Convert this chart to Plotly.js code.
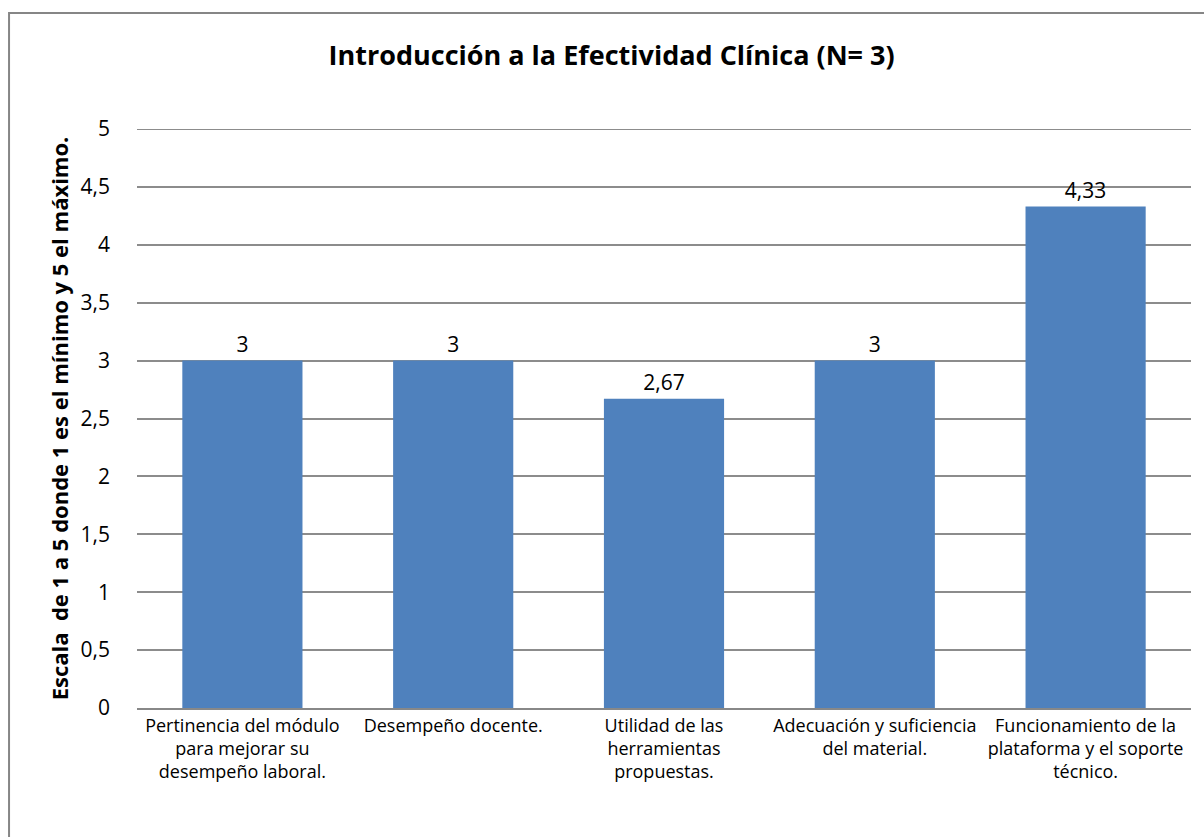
<!DOCTYPE html>
<html><head><meta charset="utf-8">
<script src="https://cdn.plot.ly/plotly-3.0.1.min.js"></script>
<style>html,body{margin:0;padding:0;background:#fff}#chart{width:1204px;height:837px}</style>
</head><body><div id="chart"></div>
<script>
const categories = [
  "Pertinencia del módulo<br>para mejorar su<br>desempeño laboral.",
  "Desempeño docente.",
  "Utilidad de las<br>herramientas<br>propuestas.",
  "Adecuación y suficiencia<br>del material.",
  "Funcionamiento de la<br>plataforma y el soporte<br>técnico."
];
const values = [3, 3, 2.67, 3, 4.33];
const tickVals = [0, 0.5, 1, 1.5, 2, 2.5, 3, 3.5, 4, 4.5, 5];

const font = "'Open Sans', Lato, sans-serif";
const trace = {
  type: 'bar', x: categories, y: values,
  marker: {color: '#4F81BD'}, width: 0.57,
  texttemplate: '%{y}', textposition: 'outside',
  textfont: {family: font, size: 21, color: '#000'}, cliponaxis: false,
  hoverinfo: 'none'
};
const yMax = tickVals[tickVals.length - 1];
const layout = {
  width: 1204, height: 837,
  margin: {l: 137, r: 13, t: 129, b: 129},
  separators: ',.',
  paper_bgcolor: '#fff', plot_bgcolor: '#fff',
  font: {family: font, color: '#000'},
  title: {text: '<b>Introducción a la Efectividad Clínica (N= 3)</b>', font: {family: font, size: 27, color: '#000'}, x: 0.508, xanchor: 'center', y: 0.934, yanchor: 'middle'},
  showlegend: false,
  xaxis: {tickfont: {family: font, size: 18, color: '#000'}, showline: true, linecolor: '#888', linewidth: 2, ticks: '', showgrid: false},
  yaxis: {range: [0, yMax], tickvals: tickVals, tickmode: 'array', tickfont: {family: font, size: 21, color: '#000'},
    showgrid: true, gridcolor: '#8c8c8c', gridwidth: 2, zeroline: false, ticks: '', ticklabelstandoff: 26,
    title: {text: '<b>Escala  de 1 a 5 donde 1 es el mínimo y 5 el máximo.</b>', font: {family: font, size: 22, color: '#000'}, standoff: 5}},
  shapes: [
    {type: 'line', xref: 'paper', yref: 'y', x0: 0, x1: 1, y0: yMax, y1: yMax, line: {color: '#8c8c8c', width: 2}, layer: 'below'},
    {type: 'rect', xref: 'paper', yref: 'paper', x0: -0.1214, x1: 1.2, y0: -0.3, y1: 1.2003, line: {color: '#868686', width: 2}, fillcolor: 'rgba(0,0,0,0)'}
  ]
};
Plotly.newPlot('chart', [trace], layout, {displayModeBar: false, staticPlot: true});
</script></body></html>
